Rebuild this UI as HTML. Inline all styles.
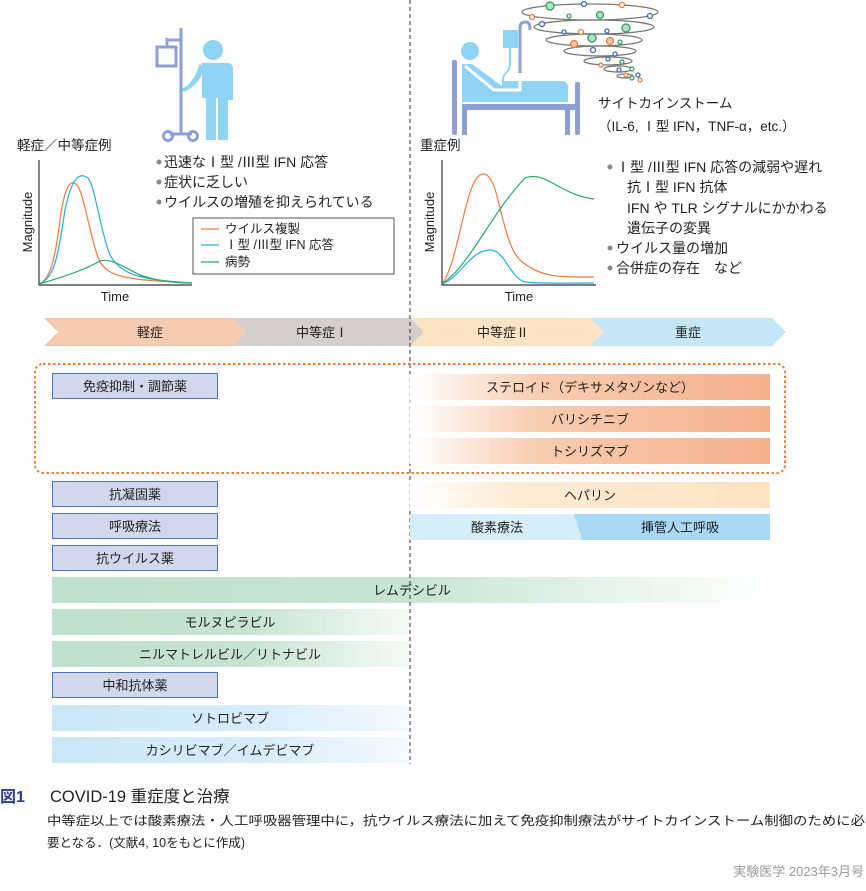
<!DOCTYPE html>
<html><head><meta charset="utf-8"><style>
html,body{margin:0;padding:0;background:#fff;}
svg{display:block;font-family:"Liberation Sans","Noto Sans CJK JP",sans-serif;}
</style></head><body>
<svg width="866" height="891" viewBox="0 0 866 891" xmlns="http://www.w3.org/2000/svg">
<defs>
<linearGradient id="gOr" x1="0" x2="1"><stop offset="0" stop-color="#fff"/><stop offset="0.35" stop-color="#f8cdb2"/><stop offset="1" stop-color="#f4b08c"/></linearGradient>
<linearGradient id="gHep" x1="0" x2="1"><stop offset="0" stop-color="#fff"/><stop offset="0.3" stop-color="#fdebd4"/><stop offset="1" stop-color="#fde3c4"/></linearGradient>
<linearGradient id="gGr" x1="0" x2="1"><stop offset="0" stop-color="#bfe0cc"/><stop offset="0.5" stop-color="#c8e5d3"/><stop offset="1" stop-color="#fff"/></linearGradient>
<linearGradient id="gGr2" x1="0" x2="1"><stop offset="0" stop-color="#bfe0cc"/><stop offset="0.55" stop-color="#c6e4d1"/><stop offset="1" stop-color="#f5faf7"/></linearGradient>
<linearGradient id="gBl" x1="0" x2="1"><stop offset="0" stop-color="#cbe7f8"/><stop offset="0.55" stop-color="#d6ecfa"/><stop offset="1" stop-color="#f5fafd"/></linearGradient>
</defs>

<!-- left icon: IV + person -->
<g fill="none" stroke="#8e9fd4" stroke-width="3">
<line x1="181" y1="28" x2="181" y2="134"/>
<line x1="167" y1="40" x2="181" y2="40"/>
<line x1="167" y1="38" x2="167" y2="47"/>
<rect x="157" y="47" width="19" height="19"/>
<line x1="170" y1="134" x2="192" y2="134"/>
<circle cx="168" cy="136" r="4.5"/><circle cx="193" cy="136" r="4.5"/>
<path d="M181 90 Q195 88 200 70"/>
</g>
<g fill="#8fd3f5">
<circle cx="213" cy="50" r="10"/>
<path d="M200 63 h28 a5 5 0 0 1 5 5 v32 h-5 v40 h-10 v-42 h-2 v42 h-10 v-42 h-4 v-35 z"/>
<path d="M200 63 q-6 20 -18 26 l2 3 q14 -6 20 -22 z"/>
</g>

<!-- right icon: bed -->
<g fill="#8e9fd4">
<rect x="452" y="60" width="5" height="75" rx="2"/>
<rect x="575" y="82" width="5" height="53" rx="2"/>
<rect x="462" y="104" width="113" height="6"/>
<rect x="462" y="104" width="5" height="31"/>
<rect x="565" y="104" width="5" height="31"/>
</g>
<g fill="#8fd3f5">
<circle cx="470" cy="51" r="9"/>
<path d="M462 64 l10 0 l30 22 l0 -5 l60 0 a6 6 0 0 1 6 6 v15 h-106 z"/>
<rect x="503" y="30" width="15" height="18"/>
</g>
<path d="M465 66 L494 90 H520 V81" fill="none" stroke="#fff" stroke-width="3"/>
<path d="M510 48 v15 q0 6 -4 10 q-4 4 -3 10" fill="none" stroke="#8fd3f5" stroke-width="2"/>
<path d="M520 73 V28 q0 -6 5 -6 q5 0 5 6 V30" fill="none" stroke="#8e9fd4" stroke-width="3"/>

<!-- cytokine storm -->
<g fill="none" stroke="#777" stroke-width="1.3">
<ellipse cx="590" cy="12" rx="68" ry="8"/>
<ellipse cx="594" cy="27" rx="60" ry="7"/>
<ellipse cx="594" cy="40" rx="48" ry="6"/>
<ellipse cx="600" cy="51" rx="36" ry="5"/>
<ellipse cx="608" cy="61" rx="24" ry="4"/>
<ellipse cx="618" cy="69" rx="14" ry="3"/>
<ellipse cx="625" cy="76" rx="8" ry="2"/>
</g>
<g stroke-width="1.3" fill="#fff">
<circle cx="550" cy="6" r="4" stroke="#2d9d5a" fill="#b7e1c3"/>
<circle cx="584" cy="4" r="2.5" stroke="#3b6cc0"/>
<circle cx="622" cy="5" r="2.5" stroke="#ef7b3b"/>
<circle cx="532" cy="17" r="2.5" stroke="#ef7b3b"/>
<circle cx="569" cy="16" r="2" stroke="#2d9d5a"/>
<circle cx="600" cy="15" r="3.5" stroke="#2d9d5a" fill="#b7e1c3"/>
<circle cx="650" cy="16" r="2.5" stroke="#3b6cc0"/>
<circle cx="542" cy="24" r="2.5" stroke="#3b6cc0"/>
<circle cx="626" cy="28" r="4" stroke="#2d9d5a" fill="#b7e1c3"/>
<circle cx="564" cy="32" r="2" stroke="#3b6cc0"/>
<circle cx="581" cy="32" r="2.5" stroke="#ef7b3b"/>
<circle cx="607" cy="31" r="2" stroke="#3b6cc0"/>
<circle cx="592" cy="38" r="4" stroke="#2d9d5a" fill="#b7e1c3"/>
<circle cx="574" cy="44" r="3.5" stroke="#ef7b3b" fill="#f8c6a8"/>
<circle cx="610" cy="41" r="3.5" stroke="#ef7b3b" fill="#f8c6a8"/>
<circle cx="620" cy="42" r="2" stroke="#2d9d5a"/>
<circle cx="593" cy="50" r="2.5" stroke="#3b6cc0"/>
<circle cx="615" cy="54" r="2" stroke="#3b6cc0"/>
<circle cx="608" cy="59" r="2" stroke="#3b6cc0"/>
<circle cx="622" cy="62" r="2" stroke="#2d9d5a"/>
<circle cx="601" cy="65" r="2" stroke="#ef7b3b"/>
<circle cx="619" cy="70" r="2" stroke="#3b6cc0"/>
<circle cx="632" cy="69" r="2" stroke="#2d9d5a"/>
<circle cx="626" cy="75" r="2" stroke="#ef7b3b"/>
<circle cx="638" cy="75" r="2" stroke="#3b6cc0"/>
<circle cx="632" cy="78" r="2" stroke="#2d9d5a"/>
<circle cx="640" cy="80" r="2" stroke="#ef7b3b"/>
</g>

<!-- top texts -->
<g font-size="13.5" fill="#222">
<text x="17" y="150">軽症／中等症例</text>
<text x="420" y="150">重症例</text>
<text x="598" y="108">サイトカインストーム</text>
<text x="598" y="131">（IL-6, Ⅰ型 IFN，TNF-α，etc.）</text>
</g>
<g font-size="14" fill="#222">
<text x="164" y="167">迅速なⅠ型 /Ⅲ型 IFN 応答</text>
<text x="164" y="187">症状に乏しい</text>
<text x="164" y="207">ウイルスの増殖を抑えられている</text>
<text x="616" y="172">Ⅰ型 /Ⅲ型 IFN 応答の減弱や遅れ</text>
<text x="627" y="192">抗Ⅰ型 IFN 抗体</text>
<text x="627" y="213">IFN や TLR シグナルにかかわる</text>
<text x="627" y="233">遺伝子の変異</text>
<text x="616" y="253">ウイルス量の増加</text>
<text x="616" y="273">合併症の存在　など</text>
</g>
<g fill="#888">
<circle cx="159" cy="162" r="2.5"/><circle cx="159" cy="182" r="2.5"/><circle cx="159" cy="202" r="2.5"/>
<circle cx="610" cy="167" r="2.5"/><circle cx="610" cy="248" r="2.5"/><circle cx="610" cy="268" r="2.5"/>
</g>

<!-- legend -->
<rect x="193" y="218" width="201" height="56" fill="#fff" stroke="#555" stroke-width="1"/>
<g font-size="12.5" fill="#222">
<line x1="201" y1="229" x2="219" y2="229" stroke="#ef7b3b" stroke-width="1.3"/><text x="225" y="233">ウイルス複製</text>
<line x1="201" y1="245" x2="219" y2="245" stroke="#29aae2" stroke-width="1.3"/><text x="225" y="249">Ⅰ型 /Ⅲ型 IFN 応答</text>
<line x1="201" y1="262" x2="219" y2="262" stroke="#2aa86a" stroke-width="1.3"/><text x="225" y="266">病勢</text>
</g>

<!-- left chart -->
<g fill="none" stroke-width="1.2">
<path d="M39 160 V285 H192" stroke="#333"/>
<path d="M39 284 C50 280 55 260 60 220 C65 185 70 180 76 184 C84 190 90 240 100 262 C110 278 130 280 192 283" stroke="#ef7b3b"/>
<path d="M39 284 C55 278 58 255 65 210 C72 176 80 172 88 178 C95 186 100 230 110 255 C122 278 150 280 192 283" stroke="#29aae2"/>
<path d="M39 284 C60 278 85 270 100 261 C110 258 120 265 140 275 C160 282 180 283 192 283" stroke="#2aa86a"/>
</g>
<text x="32" y="222" font-size="13" fill="#222" text-anchor="middle" transform="rotate(-90 32 222)">Magnitude</text>
<text x="115" y="301" font-size="13" fill="#222" text-anchor="middle">Time</text>

<!-- right chart -->
<g fill="none" stroke-width="1.2">
<path d="M442 160 V285 H596" stroke="#333"/>
<path d="M442 284 C460 260 465 175 483 174 C500 173 500 240 520 260 C540 278 560 277 594 277" stroke="#ef7b3b"/>
<path d="M442 284 C470 265 490 215 525 178 C545 170 560 195 594 199" stroke="#2aa86a"/>
<path d="M442 284 C460 278 470 250 490 250 C505 250 510 278 525 282 C540 284 570 283 594 283" stroke="#29aae2"/>
</g>
<text x="434" y="222" font-size="13" fill="#222" text-anchor="middle" transform="rotate(-90 434 222)">Magnitude</text>
<text x="519" y="301" font-size="13" fill="#222" text-anchor="middle">Time</text>

<!-- chevrons -->
<polygon points="44,318 232,318 246,332 232,346 44,346 58,332" fill="#f7cbb0"/>
<polygon points="232,318 410,318 424,332 410,346 232,346 246,332" fill="#d4cfcc"/>
<polygon points="410,318 590,318 604,332 590,346 410,346 424,332" fill="#fde3c4"/>
<polygon points="590,318 772,318 786,332 772,346 590,346 604,332" fill="#c4e6f7"/>
<g font-size="13" fill="#222" text-anchor="middle">
<text x="150" y="337">軽症</text><text x="322" y="337">中等症Ⅰ</text>
<text x="503" y="337">中等症Ⅱ</text><text x="688" y="337">重症</text>
</g>

<!-- dotted orange box -->
<rect x="35" y="364" width="750" height="109" rx="8" fill="none" stroke="#ef7b3b" stroke-width="2" stroke-dasharray="2.5,2.5"/>

<!-- purple boxes -->
<g fill="#d3d7ec" stroke="#4a74b8" stroke-width="1">
<rect x="52.5" y="373.5" width="165" height="25"/>
<rect x="52.5" y="481.5" width="165" height="25"/>
<rect x="52.5" y="513.5" width="165" height="25"/>
<rect x="52.5" y="545.5" width="165" height="25"/>
<rect x="52.5" y="672.5" width="165" height="25"/>
</g>
<g font-size="13" fill="#222" text-anchor="middle">
<text x="135" y="391">免疫抑制・調節薬</text>
<text x="135" y="499">抗凝固薬</text>
<text x="135" y="531">呼吸療法</text>
<text x="135" y="563">抗ウイルス薬</text>
<text x="135" y="690">中和抗体薬</text>
</g>

<!-- wide bars -->
<rect x="52" y="577" width="718" height="26" fill="url(#gGr)"/>
<rect x="52" y="609" width="356" height="26" fill="url(#gGr2)"/>
<rect x="52" y="641" width="356" height="26" fill="url(#gGr2)"/>
<rect x="52" y="705" width="356" height="26" fill="url(#gBl)"/>
<rect x="52" y="737" width="356" height="26" fill="url(#gBl)"/>

<!-- dashed divider -->
<line x1="410" y1="0" x2="410" y2="764" stroke="#333" stroke-width="1" stroke-dasharray="4,3"/>

<!-- right bars (over divider) -->
<rect x="410" y="374" width="360" height="26" fill="url(#gOr)"/>
<rect x="410" y="406" width="360" height="26" fill="url(#gOr)"/>
<rect x="410" y="438" width="360" height="26" fill="url(#gOr)"/>
<rect x="410" y="482" width="360" height="26" fill="url(#gHep)"/>
<polygon points="410,514 574,514 582,540 410,540" fill="#d6eefa"/>
<polygon points="574,514 770,514 770,540 582,540" fill="#a8d8f4"/>
<rect x="409" y="374" width="2" height="90" fill="#fff" opacity="0.6"/>
<rect x="409" y="482" width="2" height="26" fill="#fff" opacity="0.6"/>

<g font-size="13" fill="#222" text-anchor="middle">
<text x="590" y="392">ステロイド（デキサメタゾンなど）</text>
<text x="590" y="424">バリシチニブ</text>
<text x="590" y="456">トシリズマブ</text>
<text x="590" y="500">ヘパリン</text>
<text x="497" y="532">酸素療法</text>
<text x="680" y="532">挿管人工呼吸</text>
<text x="412" y="595">レムデシビル</text>
<text x="230" y="627">モルヌピラビル</text>
<text x="230" y="659">ニルマトレルビル／リトナビル</text>
<text x="230" y="723">ソトロビマブ</text>
<text x="230" y="755">カシリビマブ／イムデビマブ</text>
</g>

<!-- caption -->
<text x="0" y="802" font-size="16" fill="#2d3c8f" font-weight="bold">図1</text>
<text x="50" y="802" font-size="16.5" fill="#222">COVID-19 重症度と治療</text>
<text x="47" y="825" font-size="12.5" fill="#222" textLength="818" lengthAdjust="spacingAndGlyphs">中等症以上では酸素療法・人工呼吸器管理中に，抗ウイルス療法に加えて免疫抑制療法がサイトカインストーム制御のために必</text>
<text x="47" y="847" font-size="12.5" fill="#222">要となる．(文献4, 10をもとに作成)</text>
<text x="864" y="876" font-size="13" fill="#999" text-anchor="end">実験医学 2023年3月号</text>
</svg>
</body></html>
